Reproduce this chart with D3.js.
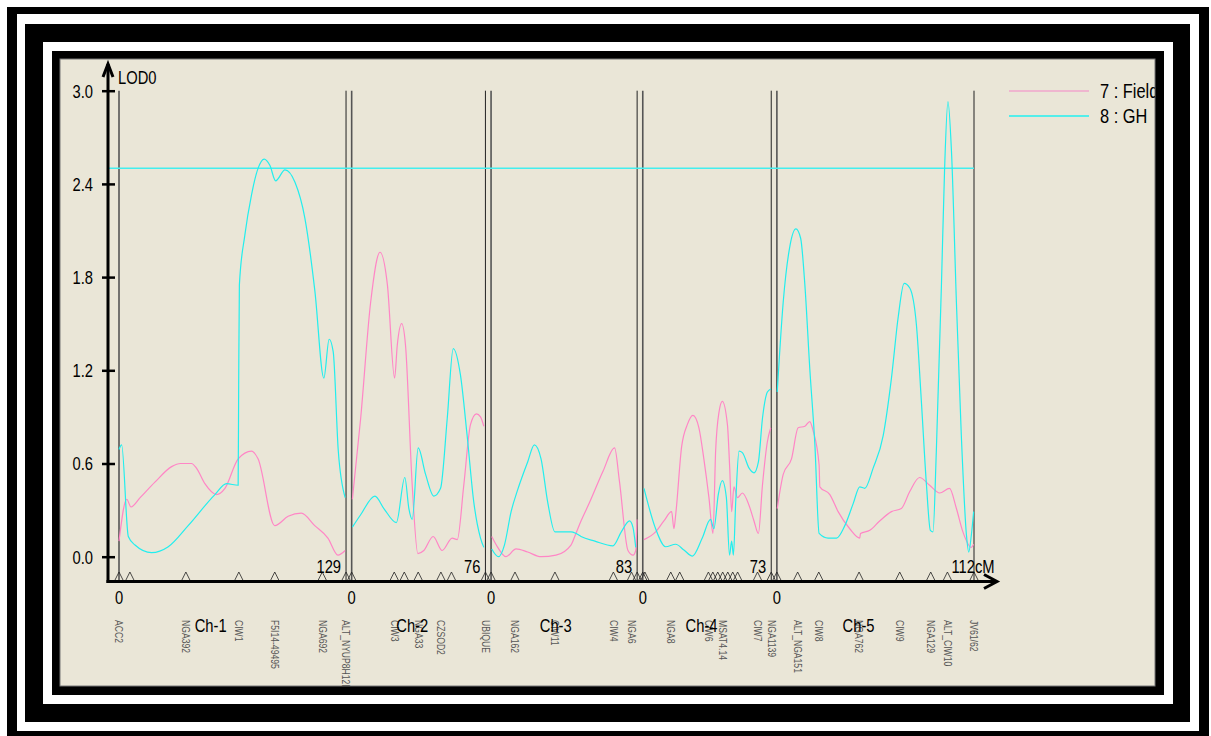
<!DOCTYPE html>
<html>
<head>
<meta charset="UTF-8">
<title>LOD profile</title>
<script src="https://d3js.org/d3.v7.min.js"></script>
<style>
  body { margin: 0; background: #fff; }
  svg { display: block; }
  text { font-family: "Liberation Sans", Arial, sans-serif; }
</style>
</head>
<body>
<svg id="chart" width="1211" height="736"></svg>
<script>
// chromosome lengths (cM) and the gap drawn between them
const chromNames = ["Ch-1", "Ch-2", "Ch-3", "Ch-4", "Ch-5"];
const chromLens = [129, 76, 83, 73, 112];
const gapCM = 3.2;

const yTicks = [0, 0.6, 1.2, 1.8, 2.4, 3.0];
const threshold = 2.5;

// marker positions (cM) per chromosome, and their labels ("" = not printed)
const markerCM = [
  [0, 6.2, 38, 68.1, 88.5, 115.5, 129],
  [0, 24.2, 29.9, 37.8, 50.7, 56.7, 76],
  [0, 13.6, 36.3, 69.5, 79.8, 83],
  [0, 1.2, 15.9, 21, 37.3, 39.8, 42.6, 45.4, 48.3, 51.1, 53.9, 65.2, 73],
  [0, 11.8, 23.8, 46.7, 69.8, 87.4, 96.9, 112]
];
const markerNames = [
  ["ACC2", "", "NGA392", "CIW1", "F5I14-49495", "NGA692", "ALT_NYUP8H12R"],
  ["", "CIW3", "", "NGA33", "CZSOD2", "", "UBIQUE"],
  ["", "NGA162", "CIW11", "CIW4", "NGA6", ""],
  ["", "", "NGA8", "", "CIW6", "", "", "MSAT4.14", "", "", "", "CIW7", "NGA1139"],
  ["", "ALT_NGA151", "CIW8", "NGA762", "CIW9", "NGA129", "ALT_CIW10", "JV61/62"]
];

// series "7 : Field"  [cM, LOD] per chromosome
const fieldCh1 = [[0,0.10],[4.4,0.37],[6.8,0.32],[12,0.38],[20.4,0.48],[29.9,0.58],[35,0.60],[41.2,0.60],[44,0.57],[48.8,0.47],[55.4,0.40],[60.2,0.44],[67.7,0.63],[75.3,0.68],[79,0.63],[88.5,0.20],[96.1,0.26],[103.6,0.28],[111.2,0.20],[118.7,0.12],[124.4,0.01],[128.5,0.04]];
const fieldCh2 = [[0.4,0.37],[5.1,0.89],[10.8,1.64],[16.1,1.96],[20.3,1.75],[24.4,1.15],[25.9,1.36],[28.4,1.50],[30.6,1.36],[34.4,0.46],[37.6,0.02],[41,0.04],[46.3,0.13],[51.4,0.04],[57.1,0.12],[60,0.11],[63.7,0.46],[67.5,0.85],[70.9,0.92],[73.2,0.90],[75.1,0.84]];
const fieldCh3 = [[0.4,0.13],[3.8,0.06],[8.5,0.0],[14.2,0.05],[20.8,0.03],[28.4,0.0],[36.9,0.01],[45.4,0.075],[48.2,0.15],[51.1,0.23],[56,0.35],[63.6,0.55],[70.2,0.70],[72.9,0.49],[77.8,0.04],[80.7,0.01],[82.2,0.04],[82.9,0.24]];
const fieldCh4 = [[0.7,0.11],[7.3,0.16],[12,0.23],[16.4,0.29],[17.7,0.18],[18.7,0.27],[22.1,0.71],[25.3,0.85],[28.5,0.91],[31.9,0.83],[34.7,0.63],[37.6,0.38],[39.9,0.15],[41.4,0.68],[43.3,0.93],[45.2,1.0],[48.1,0.85],[49.4,0.57],[50.5,0.29],[51.8,0.45],[53.8,0.38],[56.6,0.41],[60.4,0.33],[63.2,0.23],[65.7,0.15],[68,0.46],[70.8,0.74],[72.7,0.83]];
const fieldCh5 = [[0.2,0.31],[3.6,0.53],[8.3,0.63],[12.1,0.83],[15.9,0.84],[18.7,0.87],[20.6,0.81],[24,0.59],[24.4,0.45],[30.1,0.40],[34.8,0.29],[41.4,0.18],[47.1,0.12],[47.5,0.15],[52.8,0.17],[58.4,0.23],[65.1,0.29],[70.7,0.31],[75.5,0.42],[81.1,0.51],[86.8,0.46],[92.5,0.41],[98.1,0.44],[102,0.31],[105.7,0.16],[110.5,0.06],[111.8,0.08]];

// series "8 : GH"
const ghCh1 = [[0,0.69],[1.5,0.72],[5.3,0.13],[9.1,0.075],[18.5,0.026],[28,0.064],[39.3,0.20],[54.5,0.40],[61.1,0.47],[67.7,0.46],[68.0,1.1],[68.4,1.75],[71.5,2.07],[75.3,2.33],[79,2.50],[82.5,2.56],[85.7,2.52],[89,2.42],[94.3,2.49],[100,2.41],[105.6,2.18],[111.3,1.71],[116.4,1.15],[119.4,1.40],[121.7,1.32],[124.6,0.68],[128.5,0.38]];
const ghCh2 = [[0.4,0.19],[5.1,0.27],[13.2,0.39],[18.3,0.31],[25.4,0.22],[30.2,0.51],[32.5,0.31],[34.4,0.24],[37.8,0.70],[42,0.53],[46.7,0.39],[50.5,0.44],[54.3,0.89],[57.7,1.34],[61.8,1.17],[65.6,0.78],[69.4,0.35],[73.2,0.12],[75.1,0.06]];
const ghCh3 = [[0.4,0.05],[4.2,0.0],[7.6,0.075],[11.4,0.29],[15.1,0.43],[20.8,0.61],[24.6,0.72],[28.4,0.63],[32.2,0.35],[36.3,0.16],[45.4,0.16],[48.2,0.15],[51.1,0.13],[59,0.10],[69.2,0.07],[74,0.16],[78.7,0.23],[80.6,0.19],[82.2,0.06]];
const ghCh4 = [[0.7,0.44],[7.3,0.18],[13,0.064],[18.7,0.08],[23.4,0.043],[28.2,0.004],[33.8,0.12],[38.5,0.24],[40.4,0.18],[42.9,0.40],[45.2,0.49],[47.5,0.38],[49.3,0.01],[50.5,0.10],[51.5,0.01],[52.8,0.35],[54.7,0.68],[56.6,0.67],[60.4,0.57],[63.2,0.54],[65.7,0.61],[68,0.89],[70.8,1.06],[72.7,1.08]];
const ghCh5 = [[0.2,1.06],[3.6,1.64],[7.4,2.0],[10.8,2.11],[13.5,2.05],[15.9,1.75],[18.7,1.21],[21.6,0.72],[24,0.15],[29.1,0.12],[33.9,0.12],[38.6,0.20],[43.3,0.34],[47.1,0.45],[49.9,0.44],[54.7,0.57],[60.4,0.78],[65.1,1.15],[68.9,1.54],[72.3,1.76],[75.5,1.73],[79.3,1.49],[82.1,1.0],[85,0.46],[87.2,0.17],[88.7,0.16],[90.6,0.68],[93.5,1.75],[95.3,2.50],[97.2,2.93],[99.2,2.61],[102,1.64],[104.8,0.78],[107.7,0.14],[109,0.03],[110.5,0.14],[111.8,0.29]];

const series = [
  { name: "7 : Field", color: "#ff86c6", legend: "#f0a6cc", chroms: [fieldCh1, fieldCh2, fieldCh3, fieldCh4, fieldCh5] },
  { name: "8 : GH", color: "#22eeee", legend: "#22f0f0", chroms: [ghCh1, ghCh2, ghCh3, ghCh4, ghCh5] }
];

const svg = d3.select("#chart");
const narrow = 0.82; // horizontal squeeze to mimic a narrow face

function addText(parent, px, py, str, size, anchor, rotate) {
  return parent.append("text")
    .attr("transform", `translate(${px},${py})` + (rotate ? ` rotate(${rotate})` : "") + ` scale(${narrow},1)`)
    .attr("text-anchor", anchor || "start")
    .attr("font-size", size)
    .text(str);
}

// nested black / white frame around the beige panel
const frames = [
  { x0: 7, y0: 7, x1: 1209, y1: 745, fill: "#000" },
  { x0: 17, y0: 14, x1: 1199, y1: 731, fill: "#fff" },
  { x0: 25, y0: 24, x1: 1190, y1: 722, fill: "#000" },
  { x0: 43, y0: 42, x1: 1173, y1: 704, fill: "#fff" },
  { x0: 52, y0: 51, x1: 1164, y1: 695, fill: "#000" },
  { x0: 60, y0: 59, x1: 1155, y1: 686, fill: "#eae6d7" }
];
svg.selectAll("rect.frame").data(frames).join("rect")
  .attr("class", "frame")
  .attr("x", d => d.x0).attr("y", d => d.y0)
  .attr("width", d => d.x1 - d.x0).attr("height", d => d.y1 - d.y0)
  .attr("fill", d => d.fill);
svg.append("rect").attr("x", 60).attr("y", 59).attr("width", 1095).attr("height", 627)
  .attr("fill", "none").attr("stroke", "#777").attr("stroke-width", 1);

svg.append("clipPath").attr("id", "panel")
  .append("rect").attr("x", 60).attr("y", 59).attr("width", 1095).attr("height", 627);

const g = svg.append("g").attr("clip-path", "url(#panel)");

// scales
const offsets = [];
let acc = 0;
chromLens.forEach(len => { offsets.push(acc); acc += len + gapCM; });
const totalCM = acc - gapCM;

const x = d3.scaleLinear().domain([0, totalCM]).range([119, 974]);
const y = d3.scaleLinear().domain([0, 3]).range([556.7, 90.7]);
const axisY = 581.5;
const axisX = 108;

// chromosome boundary lines
chromLens.forEach((len, i) => {
  [offsets[i], offsets[i] + len].forEach((cm, j) => {
    g.append("line")
      .attr("x1", x(cm)).attr("x2", x(cm))
      .attr("y1", y(3)).attr("y2", axisY)
      .attr("stroke", j === 0 ? "#555" : "#222")
      .attr("stroke-width", j === 0 ? 1.6 : 1);
  });
});

// threshold
g.append("line")
  .attr("x1", axisX).attr("x2", x(totalCM))
  .attr("y1", y(threshold)).attr("y2", y(threshold))
  .attr("stroke", "#44eeee").attr("stroke-width", 1.5);

// LOD curves
const line = d3.line()
  .x(d => d[0])
  .y(d => y(d[1]))
  .curve(d3.curveMonotoneX);

series.forEach(s => {
  s.chroms.forEach((pts, i) => {
    g.append("path")
      .attr("d", line(pts.map(p => [x(offsets[i] + p[0]), p[1]])))
      .attr("fill", "none")
      .attr("stroke", s.color)
      .attr("stroke-width", 1.2);
  });
});

// y axis
const yAxis = g.append("g")
  .attr("transform", `translate(${axisX},0)`)
  .call(d3.axisLeft(y).tickValues(yTicks).tickSize(6).tickFormat(d3.format(".1f")));
yAxis.select(".domain").remove();
yAxis.selectAll(".tick line").attr("x1", 7).attr("stroke", "#000").attr("stroke-width", 2.5);
yAxis.selectAll(".tick text")
  .attr("x", null)
  .attr("dy", "0.36em")
  .attr("transform", `translate(-15,0) scale(${narrow},1)`)
  .attr("font-size", 18)
  .attr("font-family", "'Liberation Sans', Arial, sans-serif")
  .attr("fill", "#000");

g.append("line").attr("x1", axisX).attr("x2", axisX).attr("y1", axisY + 1.5).attr("y2", 64)
  .attr("stroke", "#000").attr("stroke-width", 3);
g.append("path").attr("d", `M${axisX - 5},77L${axisX},64L${axisX + 5},77`)
  .attr("fill", "none").attr("stroke", "#000").attr("stroke-width", 3);
addText(g, axisX + 10, 84, "LOD0", 18);

// x axis
g.append("line").attr("x1", axisX - 1.5).attr("x2", 996).attr("y1", axisY).attr("y2", axisY)
  .attr("stroke", "#000").attr("stroke-width", 3);
g.append("path").attr("d", `M984,574.5L997,${axisY}L984,588.5`)
  .attr("fill", "none").attr("stroke", "#000").attr("stroke-width", 3);

// markers
chromLens.forEach((len, i) => {
  markerCM[i].forEach((cm, j) => {
    const mx = x(offsets[i] + cm);
    g.append("path")
      .attr("d", `M${mx - 4},${axisY - 1.5}L${mx},${axisY - 9.5}L${mx + 4},${axisY - 1.5}`)
      .attr("fill", "none").attr("stroke", "#222").attr("stroke-width", 0.8);
    const name = markerNames[i][j];
    if (name) {
      addText(g, mx, 620, name, 10.5, "start", 90)
        .attr("dy", "0.35em")
        .attr("fill", "#555");
    }
  });

  // start "0" under axis
  addText(g, x(offsets[i]), 604, "0", 18, "middle");

  // chromosome length above axis
  const endX = x(offsets[i] + len);
  const last = i === chromLens.length - 1;
  addText(g, last ? endX + 1 : endX - 5, 573, len, 18, "end");
  if (last) addText(g, endX + 1, 573, "cM", 18);

  // chromosome name
  addText(g, x(offsets[i] + len / 3), 632, chromNames[i], 18);
});

// legend
series.forEach((s, i) => {
  const ly = 91 + i * 25;
  g.append("line").attr("x1", 1009).attr("x2", 1089).attr("y1", ly).attr("y2", ly)
    .attr("stroke", s.legend).attr("stroke-width", 1.5);
  addText(g, 1100, ly + 7, s.name, 20);
});
</script>
</body>
</html>
